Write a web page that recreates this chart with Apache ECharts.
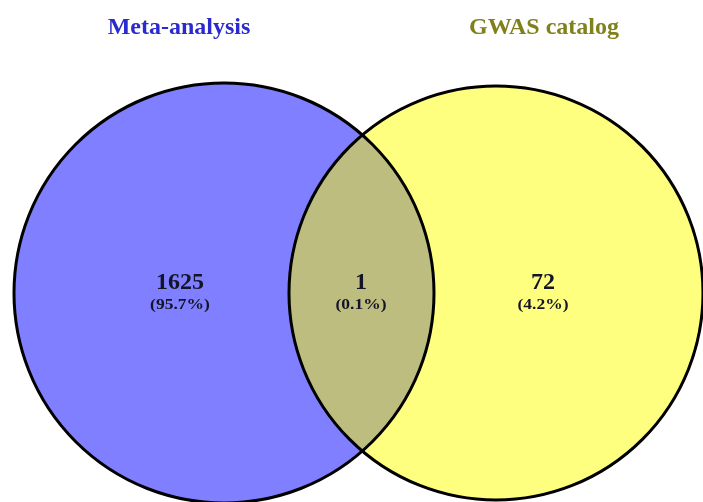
<!DOCTYPE html>
<html>
<head>
<meta charset="utf-8">
<script src="https://cdn.jsdelivr.net/npm/echarts@6/dist/echarts.min.js"></script>
<style>html,body{margin:0;padding:0;background:#fff}#c{width:703px;height:502px}</style>
</head>
<body>
<div id="c"></div>
<script>
// ---- data ----
const setNames = ['Meta-analysis', 'GWAS catalog'];
const regionCounts = [1625, 1, 72];          // only left, both, only right
const regionPercents = ['95.7%', '0.1%', '4.2%'];

// ---- layout (chart-space units) ----
const circleLayout = [
  { cx: 224, cy: 293, r: 210 },
  { cx: 496, cy: 293, r: 207 }
];
const labelPos = [[180, 295], [361, 295], [543, 295]];
const titlePos = [[179, 28], [544, 28]];
const setFill = ['#7f7fff', '#ffff7f'];
const lensFill = '#bdbd80';
const titleColor = ['#2a2acf', '#80801c'];
const FONT = '"Liberation Serif", "Times New Roman", Times, serif';

const chart = echarts.init(document.getElementById('c'), null, { renderer: 'canvas' });

function txt(x, y, s, size, color, sx, va) {
  return { type: 'text', x: x, y: y, scaleX: sx, originX: 0,
    style: { text: s, fill: color, fontFamily: FONT, fontWeight: 'bold', fontSize: size,
      align: 'center', verticalAlign: va } };
}

function renderItem(params, api) {
  const children = [];
  const px = circleLayout.map(c => {
    const p = api.coord([c.cx, c.cy]);
    const r = api.size([c.r, 0])[0];
    return { x: p[0], y: p[1], r: r };
  });
  px.forEach((c, i) => {
    children.push({ type: 'circle', shape: { cx: c.x, cy: c.y, r: c.r }, style: { fill: setFill[i], stroke: null } });
  });
  const a = px[0], b = px[1];
  const d = Math.hypot(b.x - a.x, b.y - a.y);
  const l = (a.r * a.r - b.r * b.r + d * d) / (2 * d);
  const h = Math.sqrt(a.r * a.r - l * l);
  const ux = (b.x - a.x) / d, uy = (b.y - a.y) / d;
  const mx = a.x + ux * l, my = a.y + uy * l;
  const top = [mx + uy * h, my - ux * h];
  const bot = [mx - uy * h, my + ux * h];
  const path = 'M' + top[0] + ' ' + top[1] +
    ' A' + a.r + ' ' + a.r + ' 0 0 1 ' + bot[0] + ' ' + bot[1] +
    ' A' + b.r + ' ' + b.r + ' 0 0 1 ' + top[0] + ' ' + top[1] + ' Z';
  children.push({ type: 'path', shape: { pathData: path }, style: { fill: lensFill, stroke: null } });
  px.forEach(c => {
    children.push({ type: 'circle', shape: { cx: c.x, cy: c.y, r: c.r }, style: { fill: null, stroke: '#000', lineWidth: 3 } });
  });
  regionCounts.forEach((v, i) => {
    const p = api.coord(labelPos[i]);
    children.push(txt(p[0], p[1], String(v), 24, '#141428', 1.0, 'bottom'));
    children.push(txt(p[0], p[1] + 10, '(' + regionPercents[i] + ')', 14, '#141428', 1.25, 'middle'));
  });
  setNames.forEach((n, i) => {
    const p = api.coord(titlePos[i]);
    children.push(txt(p[0], p[1], n, 24, titleColor[i], 1.0, 'middle'));
  });
  return { type: 'group', children: children };
}

chart.setOption({
  animation: false,
  backgroundColor: '#fff',
  grid: { left: 0, right: 0, top: 0, bottom: 0 },
  xAxis: { type: 'value', min: 0, max: 703, show: false },
  yAxis: { type: 'value', min: 0, max: 502, inverse: true, show: false },
  series: [{
    type: 'custom',
    coordinateSystem: 'cartesian2d',
    renderItem: renderItem,
    data: [[0, 0]],
    clip: false
  }]
});
</script>
</body>
</html>
